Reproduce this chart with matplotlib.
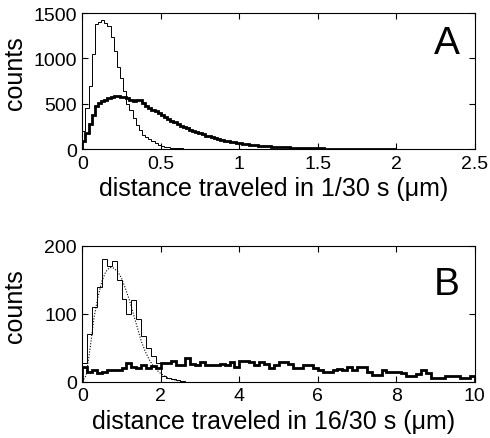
import numpy as np
import matplotlib
matplotlib.use("Agg")
import matplotlib.pyplot as plt

plt.rcParams['font.family'] = ['Liberation Sans', 'DejaVu Sans']

# ---------------- Panel A data (1/30 s) ----------------
binA = 0.02
thin_A = [200, 450, 700, 1050, 1380, 1400, 1420, 1390, 1360, 1240,
          1080, 900, 780, 640, 500, 430, 340, 270, 210, 160,
          130, 110, 85, 65, 50, 38, 28, 20, 15, 12,
          10, 8, 6, 5, 4, 3, 3, 2, 2, 2,
          1, 1, 1, 1, 1, 1, 0, 1, 0, 0]
thick_A = [90, 180, 280, 380, 470, 510, 530, 545, 560, 575,
           585, 590, 580, 575, 560, 545, 535, 540, 545, 510,
           480, 455, 435, 415, 395, 375, 355, 335, 315, 295,
           280, 260, 245, 230, 215, 200, 188, 175, 162, 150,
           140, 130, 120, 110, 102, 95, 88, 84, 80, 72,
           65, 60, 55, 50, 46, 42, 38, 35, 32, 30,
           28, 26, 24, 22, 21, 19, 18, 17, 16, 15,
           14, 13, 12, 11, 10, 9, 8, 7, 6, 6,
           5, 5, 4, 4, 3, 3, 3, 2, 2, 2,
           2, 2, 1, 1, 1, 1, 1, 1, 1, 1]
xticks_A = [0, 0.5, 1, 1.5, 2, 2.5]
xticklabels_A = ["0", "0.5", "1", "1.5", "2", "2.5"]
yticks_A = [0, 500, 1000, 1500]

# ---------------- Panel B data (16/30 s) ----------------
binB = 0.125
thin_B = [28, 70, 110, 140, 180, 170, 178, 150, 122, 100,
          120, 92, 68, 50, 38, 28, 8, 6, 4, 2, 1]
thick_B = [22, 14, 18, 13, 15, 17, 17, 18,
           20, 27, 22, 21, 24, 20, 23, 20,
           27, 28, 31, 24, 24, 35, 26, 24,
           29, 24, 24, 25, 26, 24, 29, 22,
           31, 31, 29, 24, 29, 26, 20, 24,
           29, 29, 26, 20, 20, 24, 24, 20,
           17, 14, 15, 17, 19, 17, 22, 18,
           22, 22, 14, 10, 10, 17, 14, 15,
           15, 13, 9, 9, 12, 17, 13, 6,
           6, 6, 9, 9, 9, 5, 5, 8]
fit_x_B = [0, 0.1, 0.2, 0.3, 0.4, 0.5, 0.6, 0.7, 0.8, 0.9, 1.0, 1.1, 1.2,
           1.3, 1.4, 1.5, 1.6, 1.7, 1.8, 1.9, 2.0, 2.2, 2.4, 2.6]
fit_y_B = [0, 10, 50, 95, 125, 148, 162, 168, 167, 162, 152, 137, 120,
           100, 80, 60, 45, 33, 24, 17, 12, 5, 2, 0]
xticks_B = [0, 2, 4, 6, 8, 10]
yticks_B = [0, 100, 200]

fig = plt.figure(figsize=(4.9, 4.39), dpi=100)
axA = fig.add_axes([0.168, 0.658, 0.801, 0.310])
axB = fig.add_axes([0.168, 0.128, 0.801, 0.310])

edgesA_thin = np.arange(len(thin_A) + 1) * binA
edgesA_thick = np.arange(len(thick_A) + 1) * binA
axA.stairs(thin_A, edgesA_thin, baseline=0, color='black', lw=0.7)
axA.stairs(thick_A, edgesA_thick, baseline=0, color='black', lw=2.0)

edgesB_thin = np.arange(len(thin_B) + 1) * binB
edgesB_thick = np.arange(len(thick_B) + 1) * binB
axB.stairs(thin_B, edgesB_thin, baseline=0, color='black', lw=0.7)
axB.stairs(thick_B, edgesB_thick, baseline=0, color='black', lw=2.0)
axB.plot(fit_x_B, fit_y_B, color='black', lw=0.8, ls=(0, (1, 1.5)))

axA.set_xlim(0, 2.5)
axA.set_ylim(0, 1500)
axA.set_xticks(xticks_A)
axA.set_xticklabels(xticklabels_A)
axA.set_yticks(yticks_A)

axB.set_xlim(0, 10)
axB.set_ylim(0, 200)
axB.set_xticks(xticks_B)
axB.set_yticks(yticks_B)

for ax, lab, xl in [(axA, 'A', 'distance traveled in 1/30 s (\u03bcm)'),
                    (axB, 'B', 'distance traveled in 16/30 s (\u03bcm)')]:
    ax.tick_params(direction='in', top=True, right=True, length=4,
                   width=0.8, labelsize=14, pad=4)
    for s in ax.spines.values():
        s.set_linewidth(0.8)
    ax.set_ylabel('counts', fontsize=18)
    ax.set_xlabel(xl, fontsize=18)
    ax.yaxis.set_label_coords(-0.141, 0.566)
    ax.xaxis.set_label_coords(0.487, -0.2)
    ax.text(0.929, 0.78 if lab == 'A' else 0.72, lab, transform=ax.transAxes,
            fontsize=28, ha='center', va='center')

fig.savefig('out.png', dpi=100)
